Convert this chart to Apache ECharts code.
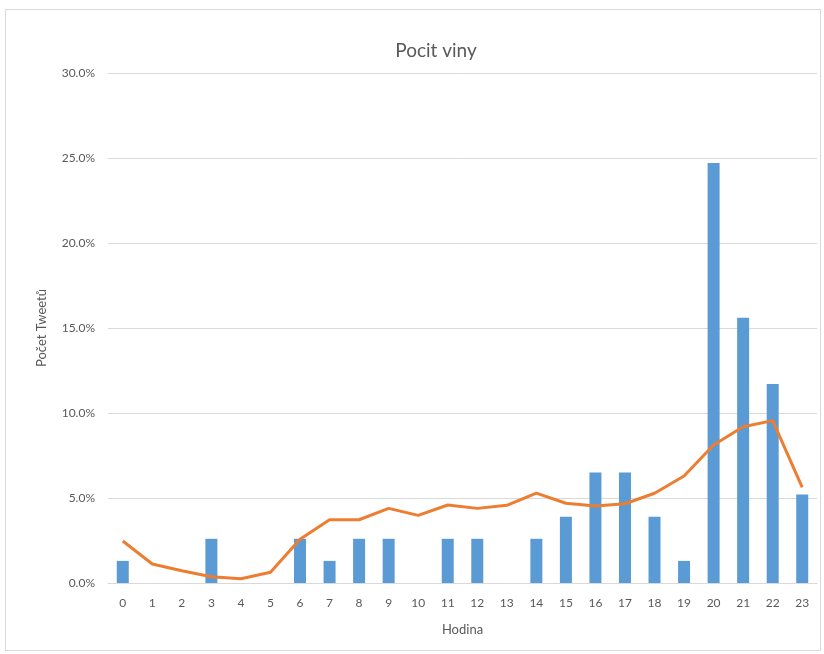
<!DOCTYPE html>
<html>
<head>
<meta charset="utf-8">
<script src="https://cdn.jsdelivr.net/npm/echarts@6/dist/echarts.min.js"></script>
<style>
  html, body { margin: 0; padding: 0; background: #fff; }
  #frame { position: absolute; left: 5px; top: 9px; width: 814px; height: 640px; border: 1px solid #d9d9d9; }
  #chart { position: absolute; left: 0; top: 0; width: 824px; height: 654px; }
</style>
</head>
<body>
<div id="frame"></div>
<div id="chart"></div>
<script>
// hours of the day
const hours = ['0','1','2','3','4','5','6','7','8','9','10','11','12','13','14','15','16','17','18','19','20','21','22','23']
// share of tweets per hour (bars)
const tweetShare = [0.013, 0, 0, 0.026, 0, 0, 0.026, 0.013, 0.026, 0.026, 0, 0.026, 0.026, 0, 0.026, 0.039, 0.065, 0.065, 0.039, 0.013, 0.247, 0.156, 0.117, 0.052]
// reference profile (line)
const lineShare = [0.0247, 0.0112, 0.0072, 0.0037, 0.0025, 0.0063, 0.0257, 0.0372, 0.0372, 0.0439, 0.0398, 0.0459, 0.0439, 0.0457, 0.0529, 0.0469, 0.0453, 0.0466, 0.0528, 0.0629, 0.0812, 0.0919, 0.0955, 0.0563]

const font = 'Lato, "Liberation Sans", sans-serif'
const chart = echarts.init(document.getElementById('chart'))

chart.setOption({
  animation: false,
  title: {
    text: 'Pocit viny',
    left: 431,
    textAlign: 'center',
    top: 36,
    textStyle: { color: '#595959', fontSize: 19, fontWeight: 'normal', fontFamily: font }
  },
  grid: { left: 108, right: 7, top: 73, bottom: 71 },
  xAxis: {
    type: 'category',
    data: hours,
    name: 'Hodina',
    nameLocation: 'middle',
    nameGap: 40,
    nameTextStyle: { color: '#595959', fontSize: 13, fontFamily: font },
    axisLine: { lineStyle: { color: '#d9d9d9', width: 1 } },
    axisTick: { show: false },
    axisLabel: { color: '#595959', fontSize: 12, fontFamily: font, margin: 14 }
  },
  yAxis: {
    type: 'value',
    min: 0,
    max: 0.3,
    interval: 0.05,
    name: 'Počet Tweetů',
    nameLocation: 'middle',
    nameGap: 60,
    nameTextStyle: { color: '#595959', fontSize: 13, fontFamily: font },
    axisLine: { show: false },
    axisTick: { show: false },
    axisLabel: {
      color: '#595959', fontSize: 12, fontFamily: font, margin: 13,
      formatter: v => (v * 100).toFixed(1) + '%'
    },
    splitLine: { lineStyle: { color: '#d9d9d9', width: 1 } }
  },
  series: [
    {
      name: 'Pocit viny',
      type: 'bar',
      data: tweetShare,
      barWidth: 12,
      itemStyle: { color: '#5b9bd5' }
    },
    {
      name: 'Průměr',
      type: 'line',
      data: lineShare,
      symbol: 'none',
      lineStyle: { color: '#ed7d31', width: 3 },
      itemStyle: { color: '#ed7d31' }
    }
  ]
})
</script>
</body>
</html>
